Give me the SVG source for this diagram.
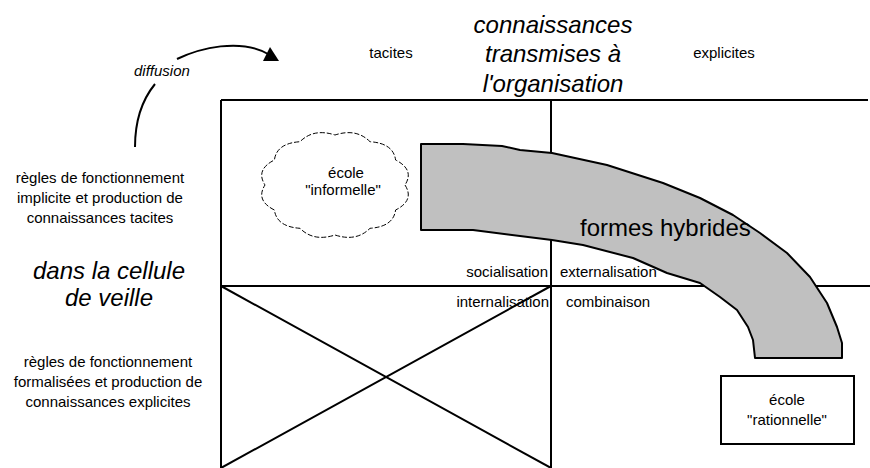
<svg xmlns="http://www.w3.org/2000/svg" width="870" height="468" viewBox="0 0 870 468">
<style>
  text { font-family: "Liberation Sans", Arial, sans-serif; fill: #000; }
  .s { font-size: 15px; }
  .big { font-size: 24px; font-style: italic; }
  .it { font-size: 15px; font-style: italic; }
  .mid { text-anchor: middle; }
  .end { text-anchor: end; }
  .grid { stroke: #000; stroke-width: 2; fill: none; }
  .conn { stroke: #000; stroke-width: 2; fill: none; }
</style>
<rect width="870" height="468" fill="#fff"/>

<g id="grid">
  <line class="grid" x1="221" y1="100" x2="868" y2="100"/>
  <line class="grid" x1="221" y1="286" x2="870" y2="286"/>
  <line class="grid" x1="221" y1="100" x2="221" y2="468"/>
  <line class="grid" x1="551" y1="100" x2="551" y2="468"/>
  <line class="grid" x1="221" y1="286" x2="551" y2="468"/>
  <line class="grid" x1="221" y1="468" x2="551" y2="286"/>
</g>

<g id="header">
  <text class="big mid" x="553" y="33">connaissances</text>
  <text class="big mid" x="553" y="62">transmises à</text>
  <text class="big mid" x="553" y="92">l'organisation</text>
  <text class="s mid" x="391" y="58">tacites</text>
  <text class="s mid" x="724" y="58">explicites</text>
</g>

<g id="left-labels">
  <text class="s mid" x="100" y="183">règles de fonctionnement</text>
  <text class="s mid" x="100" y="203">implicite et production de</text>
  <text class="s mid" x="100" y="223">connaissances tacites</text>
  <text class="big mid" x="109" y="279">dans la cellule</text>
  <text class="big mid" x="109" y="306">de veille</text>
  <text class="s mid" x="108" y="367">règles de fonctionnement</text>
  <text class="s mid" x="108" y="387">formalisées et production de</text>
  <text class="s mid" x="108" y="407">connaissances explicites</text>
</g>

<g id="formes-hybrides">
  <path d="M421,144 L463,144 L502,146 L520,150 L552,153 L607,165 L663,183 L700,198 L733,215 L760,233 L787,253 L810,277 L827,303 L837,327 L842,343 L842,358 L755,358 L753,340 L748,327 L737,310 L720,297 L700,283 L667,273 L633,258 L583,245 L552,240 L473,230 L421,230 Z" fill="#c0c0c0" stroke="#000" stroke-width="2" stroke-linejoin="round"/>
  <text x="580" y="236" style="font-size:24px">formes hybrides</text>
</g>

<g id="quadrant-labels">
  <text class="s end" x="548" y="277">socialisation</text>
  <text class="s" x="560" y="277">externalisation</text>
  <text class="s end" x="549" y="307">internalisation</text>
  <text class="s" x="566" y="307">combinaison</text>
</g>

<g id="ecole-informelle">
  <path d="M405,185 Q414.8,200.3 395.6,210 Q393.4,226.7 370,228.3 Q356.4,242 335,235 Q313.6,242 300,228.3 Q276.6,226.7 274.4,210 Q255.2,200.3 265,185 Q255.2,169.7 274.4,160 Q276.6,143.3 300,141.7 Q313.6,128 335,135 Q356.4,128 370,141.7 Q393.4,143.3 395.6,160 Q414.8,169.7 405,185 Z" fill="#fff" stroke="#000" stroke-width="1" stroke-dasharray="5 2"/>
  <text class="s mid" x="346" y="178">école</text>
  <text class="s mid" x="343" y="195">"informelle"</text>
</g>

<g id="ecole-rationnelle">
  <rect x="721" y="376" width="133" height="68" fill="#fff" stroke="#000" stroke-width="2"/>
  <text class="s mid" x="787" y="405">école</text>
  <text class="s mid" x="787" y="425">"rationnelle"</text>
</g>

<g id="connectors">
  <path class="conn" d="M135,147 C135,120 142,100 155,84"/>
  <path class="conn" d="M177,59 C200,48 240,38 268,54"/>
  <polygon points="263,61 279,61 270,47" fill="#000"/>
  <text class="it" x="134" y="76">diffusion</text>
</g>
</svg>
